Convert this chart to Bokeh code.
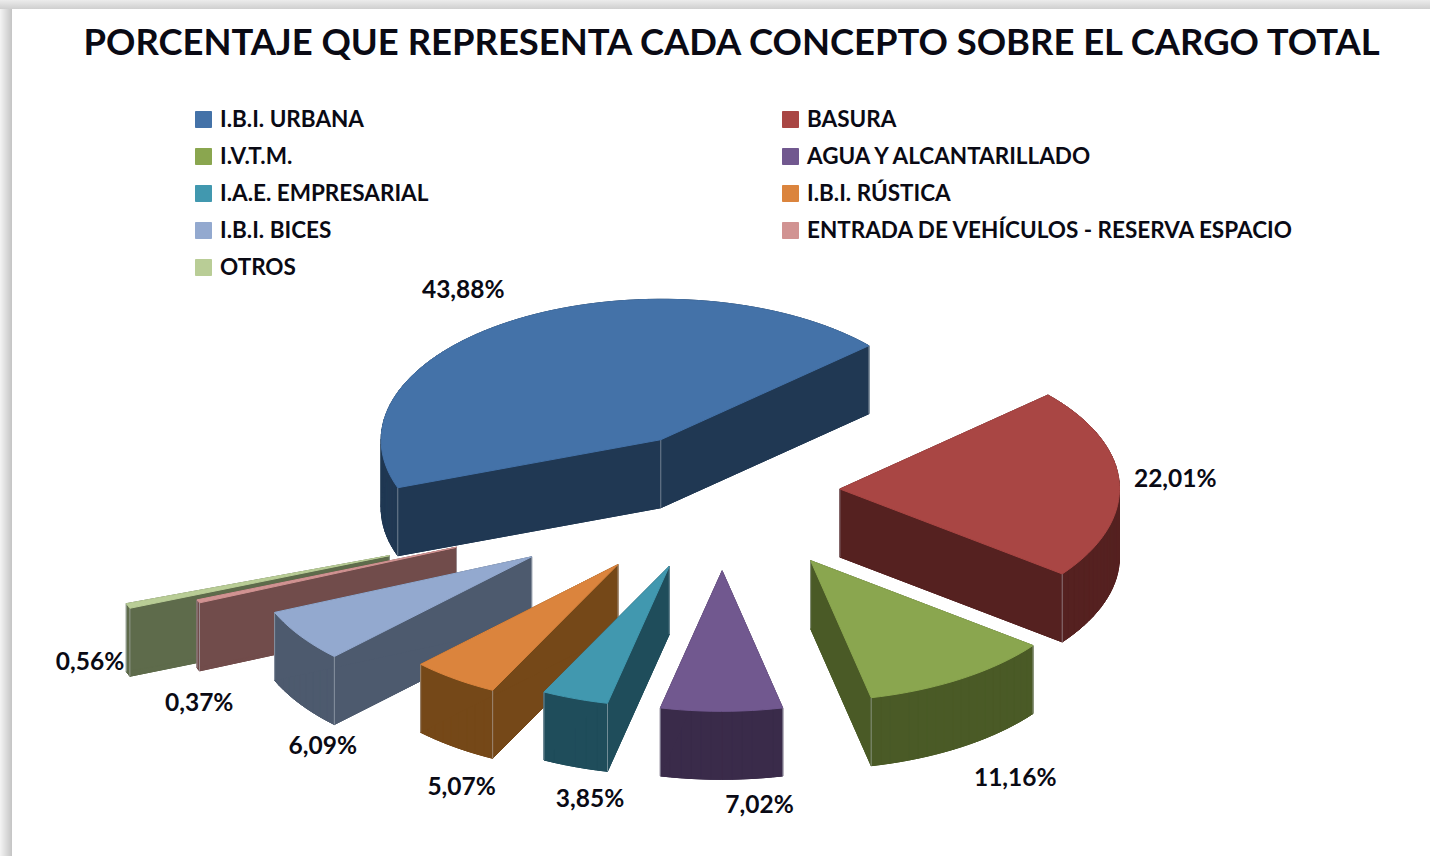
import math
from bokeh.core.properties import value
from bokeh.embed import file_html
from bokeh.models import Legend, LegendItem, Range1d, ColumnDataSource, Title
from bokeh.plotting import figure
from bokeh.resources import INLINE

# ---- data
concepts = ["I.B.I. URBANA", "BASURA", "I.V.T.M.", "AGUA Y ALCANTARILLADO", "I.A.E. EMPRESARIAL",
            "I.B.I. RÚSTICA", "I.B.I. BICES", "ENTRADA DE VEHÍCULOS - RESERVA ESPACIO", "OTROS"]
percentages = [43.88, 22.01, 11.16, 7.02, 3.85, 5.07, 6.09, 0.37, 0.56]
explosion = [0.43, 0.42, 0.585, 0.565, 0.565, 0.64, 0.825, 1.03, 1.275]

# ---- style
top_colors = ["#4472A8", "#A94644", "#8AA64F", "#71588F", "#4198AF", "#DB843D", "#93A9CF", "#D19392", "#B9CD96"]
side_colors = ["#203853", "#552120", "#4A5A26", "#3A2B4A", "#1F4D5B", "#754818", "#4D5A6E", "#714C4B", "#5E6B4B"]
draw_order = [0, 8, 7, 6, 5, 4, 3, 1, 2]
label_dx = [-54, 56, 54, 38, 15, 7, 22.5, 1, -38]
label_dy = [-31, -6, 98, 92, 99, 107, 109, 100, 55]

# ---- oblique projection of the pie plane
CENTER = (722, 491)
AXIS_C = (-263, 48)
AXIS_D = (-95, -132)
DEPTH = 68
FONT = "Lato"


def rim(t):
    return (AXIS_C[0] * math.cos(t) + AXIS_D[0] * math.sin(t),
            AXIS_C[1] * math.cos(t) + AXIS_D[1] * math.sin(t))


p = figure(width=1414, height=838, x_range=Range1d(0, 1414), y_range=Range1d(838, 70),
           output_backend="svg", toolbar_location=None, min_border=0, min_border_top=70,
           background_fill_color=None, border_fill_color=None, outline_line_color=None)
p.xaxis.visible = False
p.yaxis.visible = False
p.grid.visible = False

p.add_layout(Title(text="PORCENTAJE QUE REPRESENTA CADA CONCEPTO SOBRE EL CARGO TOTAL",
                   text_font=FONT, text_font_size="36.4px", text_font_style="bold", text_color="#0a0a14",
                   align="left", offset=83, standoff=16), "above")

total = sum(percentages)
starts, ends = [], []
acc = 0.0
for v in percentages:
    starts.append(acc / total * 2 * math.pi)
    acc += v
    ends.append(acc / total * 2 * math.pi)

legend_renderers = {}
lab_x, lab_y, lab_t = [], [], []
for i in draw_order:
    a0, a1 = starts[i], ends[i]
    mid = (a0 + a1) / 2
    ox, oy = rim(mid)
    ax = CENTER[0] + explosion[i] * ox
    ay = CENTER[1] + explosion[i] * oy
    n = max(3, int((a1 - a0) / math.radians(2)))
    arc = [rim(a0 + (a1 - a0) * k / n) for k in range(n + 1)]
    xs = [ax] + [ax + r[0] for r in arc]
    ys = [ay] + [ay + r[1] for r in arc]

    # sides: sweep every outline edge downwards, and close the underside
    qx, qy = [[x for x in xs]], [[y + DEPTH for y in ys]]
    m = len(xs)
    for k in range(m):
        j = (k + 1) % m
        qx.append([xs[k], xs[j], xs[j], xs[k]])
        qy.append([ys[k], ys[j], ys[j] + DEPTH, ys[k] + DEPTH])
    p.patches(qx, qy, fill_color=side_colors[i], line_color=side_colors[i], line_width=1)

    # light edge lines at the prism corners
    cx = [xs[0], xs[1], xs[-1]]
    cy = [ys[0], ys[1], ys[-1]]
    p.segment(cx, cy, cx, [y + DEPTH for y in cy], line_color="#C8CED6", line_alpha=0.5, line_width=1)

    top = p.patch(xs, ys, fill_color=top_colors[i], line_color=top_colors[i], line_width=1)
    legend_renderers[i] = top

    lab_x.append(ax + ox + label_dx[i])
    lab_y.append(ay + oy + label_dy[i])
    lab_t.append(f"{percentages[i]:.2f}".replace(".", ",") + "%")

p.text(x="x", y="y", text="t", source=ColumnDataSource(dict(x=lab_x, y=lab_y, t=lab_t)),
       text_font=value(FONT), text_font_size="24.5px", text_font_style="bold", text_color="#0a0a14",
       text_align="center", text_baseline="middle")

legend = Legend(items=[LegendItem(label=c, renderers=[legend_renderers[i]]) for i, c in enumerate(concepts)],
                ncols=2, location=(193, 558), orientation="horizontal",
                glyph_width=20, glyph_height=20, label_standoff=7, label_width=550, label_height=21,
                spacing=10, padding=0, margin=0,
                label_text_font=FONT, label_text_font_size="22.5px", label_text_font_style="bold",
                label_text_color="#0a0a14", background_fill_alpha=0, border_line_color=None)
p.add_layout(legend)

html = file_html(p, INLINE)
css = ("<style>html,body{background:"
       "linear-gradient(to bottom,#ececec,#cfcfcf) top left/100% 9px no-repeat,"
       "linear-gradient(to right,#f4f4f4,#c4c4c4) top left/12px 100% no-repeat,"
       "#ffffff;}</style>")
html = html.replace("<head>", "<head>" + css, 1)
open("out.html", "w").write(html)
